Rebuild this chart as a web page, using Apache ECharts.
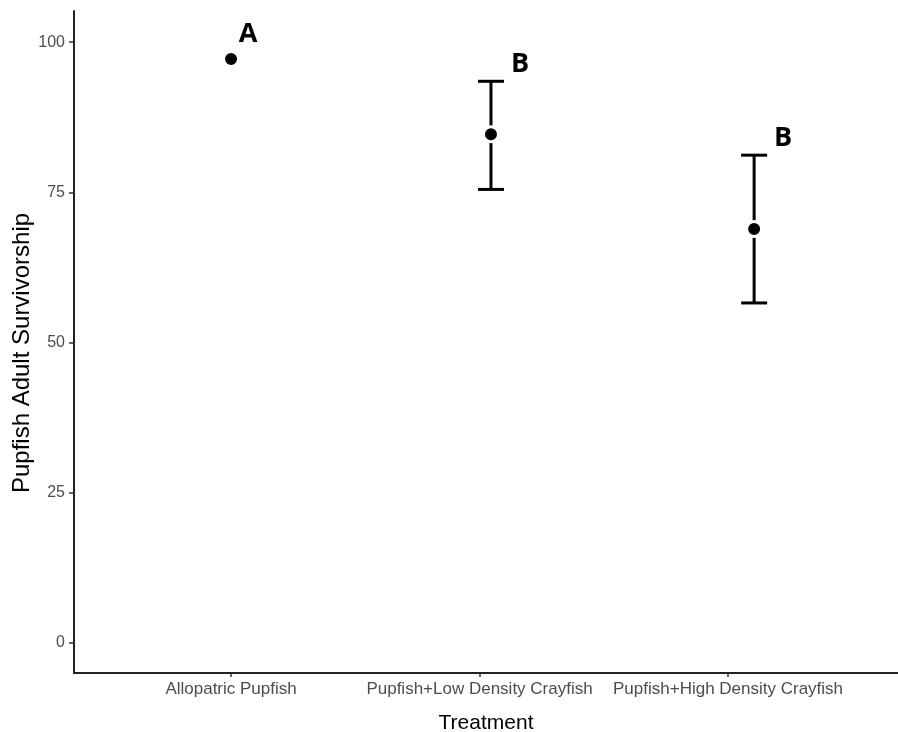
<!DOCTYPE html>
<html><head><meta charset="utf-8">
<script src="https://cdn.jsdelivr.net/npm/echarts@6/dist/echarts.min.js"></script>
<style>html,body{margin:0;padding:0;background:#fff}#c{width:898px;height:732px}</style>
</head><body><div id="c"></div>
<script>
const categories = ['Allopatric Pupfish', 'Pupfish+Low Density Crayfish', 'Pupfish+High Density Crayfish'];
const tickPos = [1, 2, 3];
const pointX = [1, 2.046, 3.105];
const means = [97.2, 84.7, 68.9];
const lower = [97.2, 75.5, 56.6];
const upper = [97.2, 93.5, 81.2];
const letters = ['A', 'B', 'B'];
const yTicks = [0, 25, 50, 75, 100];

const chart = echarts.init(document.getElementById('c'));
const errData = pointX.map((x, i) => [x, lower[i], upper[i], letters[i]]);
const ptData = pointX.map((x, i) => [x, means[i]]);

chart.setOption({
  animation: false,
  grid: {left: 74, right: 0, top: 11, bottom: 59, containLabel: false, outerBoundsMode: 'none'},
  xAxis: {
    type: 'value', min: 0.368, max: 3.684,
    name: 'Treatment', nameLocation: 'middle', nameGap: 40, nameMoveOverlap: false,
    nameTextStyle: {fontFamily: 'Liberation Sans', fontSize: 21, color: '#000'},
    axisLine: {show: true, onZero: false, lineStyle: {color: '#222', width: 2}},
    axisTick: {show: true, length: 4, lineStyle: {color: '#333', width: 1.5}, customValues: tickPos},
    axisLabel: {customValues: tickPos, formatter: v => categories[tickPos.indexOf(v)] || '',
      fontFamily: 'Liberation Sans', fontSize: 17, color: '#4d4d4d', margin: 8},
    splitLine: {show: false}
  },
  yAxis: {
    type: 'value', min: -5, max: 105.2,
    name: 'Pupfish Adult Survivorship', nameLocation: 'middle', nameGap: 40, nameRotate: 90, nameMoveOverlap: false,
    nameTextStyle: {fontFamily: 'Liberation Sans', fontSize: 24, color: '#000', padding: [0, 22, 0, 0]},
    axisLine: {show: true, onZero: false, lineStyle: {color: '#222', width: 2}},
    axisTick: {show: true, length: 5, lineStyle: {color: '#333', width: 1.5}, customValues: yTicks},
    axisLabel: {customValues: yTicks, fontFamily: 'Liberation Sans', fontSize: 16, color: '#4d4d4d', margin: 9},
    splitLine: {show: false}
  },
  series: [
    {
      type: 'custom',
      data: errData,
      encode: {x: 0, y: [1, 2]},
      renderItem: function (params, api) {
        const x = api.value(0);
        const lo = api.coord([x, api.value(1)]);
        const hi = api.coord([x, api.value(2)]);
        const w = 13;
        const st = {stroke: '#000', lineWidth: 3};
        const children = [];
        const hasBar = Math.abs(hi[1] - lo[1]) > 1;
        if (hasBar) {
          children.push({type: 'line', shape: {x1: lo[0], y1: lo[1], x2: hi[0], y2: hi[1]}, style: st});
          children.push({type: 'line', shape: {x1: hi[0] - w, y1: hi[1], x2: hi[0] + w, y2: hi[1]}, style: st});
          children.push({type: 'line', shape: {x1: lo[0] - w, y1: lo[1], x2: lo[0] + w, y2: lo[1]}, style: st});
        }
        const dx = hasBar ? 29 : 17;
        const dy = hasBar ? -17 : -25;
        children.push({type: 'text', style: {text: api.value(3), x: hi[0] + dx, y: hi[1] + dy,
          align: 'center', verticalAlign: 'middle', fill: '#000',
          font: 'bold 27px "Open Sans", "Liberation Sans", sans-serif'}});
        return {type: 'group', children: children};
      },
      z: 2
    },
    {
      type: 'scatter',
      data: ptData,
      symbol: 'circle', symbolSize: 15,
      itemStyle: {color: '#000', borderColor: '#fff', borderWidth: 3, opacity: 1},
      z: 3
    }
  ]
});
</script></body></html>
